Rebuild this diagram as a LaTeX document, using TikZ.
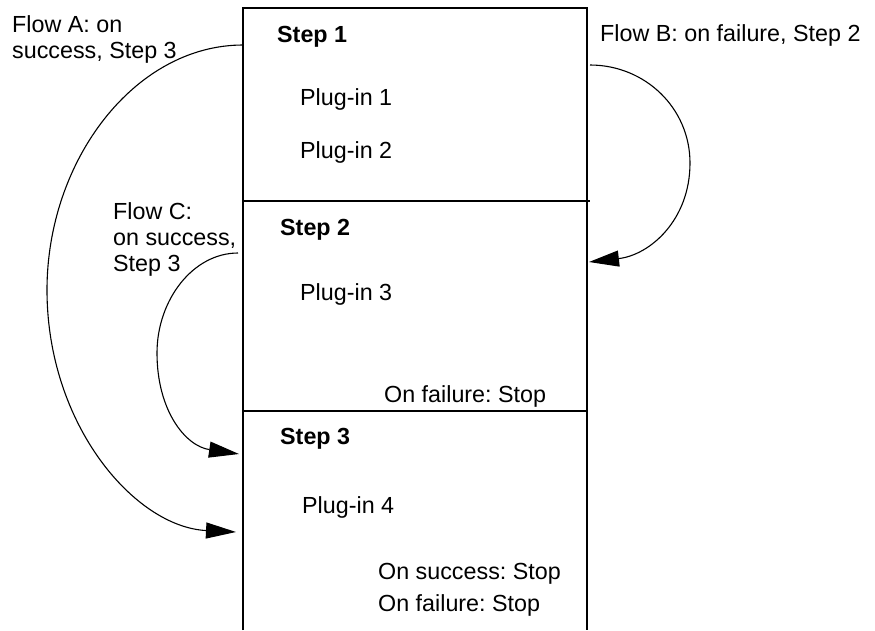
\documentclass[tikz,border=0pt]{standalone}
\usepackage{fontspec}
\setmainfont{Liberation Sans}
\usetikzlibrary{arrows.meta}
\frenchspacing
\begin{document}
\begin{tikzpicture}[x=1pt,y=-1pt,
  boxline/.style={line width=2pt},
  flow/.style={line width=1.1pt,-{Triangle[length=30pt,width=16pt]}},
  lbl/.style={anchor=base west,inner sep=0pt,font=\fontsize{23.3}{27}\selectfont},
  steplbl/.style={lbl,font=\fontsize{23.3}{27}\selectfont\bfseries}]
\useasboundingbox (0,0) rectangle (875,630);

% the step table: open at the bottom
\coordinate (tl) at (243,8);
\coordinate (tr) at (587,8);
\coordinate (bl) at (243,630);
\coordinate (br) at (587,630);
\draw[boxline] (bl) -- (tl) -- (tr) -- (br);
\draw[boxline] (243,201) -- (590,201);
\draw[boxline] (243,411) -- (587,411);

% step contents
\node[steplbl] (s1) at (277,42) {Step 1};
\node[lbl] (p1) at (300,105) {Plug-in 1};
\node[lbl] (p2) at (300,158) {Plug-in 2};
\node[steplbl] (s2) at (280,235) {Step 2};
\node[lbl] (p3) at (300,300) {Plug-in 3};
\node[lbl] (s2f) at (384,402) {On failure: Stop};
\node[steplbl] (s3) at (280,444) {Step 3};
\node[lbl] (p4) at (302,513) {Plug-in 4};
\node[lbl] (s3s) at (378,579) {On success: Stop};
\node[lbl] (s3f) at (378,611) {On failure: Stop};

% flow labels
\node[lbl] (fa1) at (12,32) {Flow A: on};
\node[lbl] (fa2) at (12,58) {success, Step 3};
\node[lbl] (fb) at (600,41) {Flow B: on failure, Step 2};
\node[lbl] (fc1) at (113,219) {Flow C:};
\node[lbl] (fc2) at (113,245) {on success,};
\node[lbl] (fc3) at (113,271) {Step 3};

% flow connectors
\coordinate (aS) at (243,45);
\coordinate (aE) at (236,532);
\coordinate (bS) at (590,65);
\coordinate (bE) at (589,262);
\coordinate (cS) at (238,253);
\coordinate (cE) at (239,454);

\draw[flow] (aS) .. controls (135,45) and (47,160) .. (47,290)
            .. controls (47,425) and (135,527) .. (aE);
\draw[flow] (bS) .. controls (645,65) and (690,108) .. (690,163)
            .. controls (690,220) and (650,255) .. (bE);
\draw[flow] (cS) .. controls (193,253) and (157,300) .. (157,353)
            .. controls (157,410) and (185,446) .. (cE);
\end{tikzpicture}
\end{document}
